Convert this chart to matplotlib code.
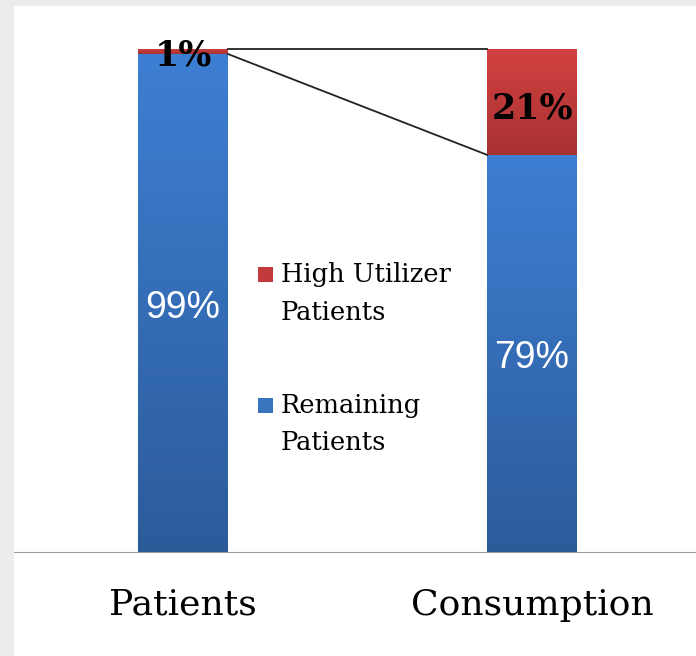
import numpy as np
import matplotlib.pyplot as plt
from matplotlib.colors import to_rgb
from matplotlib.patches import Rectangle

categories = ['Patients', 'Consumption']
remaining = [99, 79]
high_util = [1, 21]
remaining_labels = ['99%', '79%']
high_labels = ['1%', '21%']
legend_labels = ['High Utilizer\nPatients', 'Remaining\nPatients']
legend_colors = ['#c23a3b', '#3a73c0']

W, H = 696, 656
fig = plt.figure(figsize=(W / 100, H / 100), dpi=100, facecolor='#ececec')

# white panel behind everything
fig.patches.append(Rectangle((14 / W, 0), 1 - 14 / W, 1 - 6 / H,
                             transform=fig.transFigure, facecolor='white',
                             edgecolor='none', zorder=-10))

bw = 90 / 349
ax = fig.add_axes([14 / W, 103 / H, 1 - 14 / W, (553 - 6) / H])
ax.set_facecolor('none')
for s in ax.spines.values():
    s.set_visible(False)
ax.set_xticks([])
ax.set_yticks([])

x = np.arange(len(categories))


def gradient_bar(xc, bottom, height, top_col, bot_col):
    rect = Rectangle((xc - bw / 2, bottom), bw, height, facecolor='none',
                     edgecolor='none')
    ax.add_patch(rect)
    c1 = np.array(to_rgb(top_col))
    c2 = np.array(to_rgb(bot_col))
    t = np.linspace(0, 1, 200)[:, None]
    img = (c1 * (1 - t) + c2 * t)[:, None, :]
    im = ax.imshow(img, extent=(xc - bw / 2, xc + bw / 2, bottom, bottom + height),
                   aspect='auto', zorder=2, interpolation='bilinear')
    im.set_clip_path(rect)


for i in x:
    gradient_bar(i, 0, remaining[i], '#3d7fd3', '#2c5b9a')
    gradient_bar(i, remaining[i], high_util[i], '#d24141', '#a93232')

# connector lines
ax.plot([x[0] + bw / 2, x[1] - bw / 2], [100, 100], color='#222222', lw=1.3, zorder=3)
ax.plot([x[0] + bw / 2, x[1] - bw / 2], [remaining[0], remaining[1]],
        color='#222222', lw=1.3, zorder=3)

ax.set_xlim(-(183 - 14) / 349, (696 - 183) / 349)
ax.set_ylim(0, (553 - 6) / 504 * 100)

# baseline
ax.axhline(0, color='#9a9a9a', lw=1.5, zorder=4)

# value labels
ax.text(x[0], 46.6, remaining_labels[0], color='white', fontsize=27,
        family='Liberation Sans', ha='center', va='baseline', zorder=5)
ax.text(x[1], 36.7, remaining_labels[1], color='white', fontsize=27,
        family='Liberation Sans', ha='center', va='baseline', zorder=5)
ax.text(x[0], 96.8, high_labels[0], color='black', fontsize=25,
        family='DejaVu Serif', weight='bold', ha='center', va='baseline', zorder=5)
ax.text(x[1], 86.3, high_labels[1], color='black', fontsize=25,
        family='DejaVu Serif', weight='bold', ha='center', va='baseline', zorder=5)

# category labels
for i, c in enumerate(categories):
    ax.text(x[i], -10.3, c, fontsize=26, family='DejaVu Serif',
            ha='center', va='center', clip_on=False)

# legend (drawn by hand so the swatch sits on the first line)
leg_base = [282, 413]
for lab, col, yb in zip(legend_labels, legend_colors, leg_base):
    fig.patches.append(Rectangle((258 / W, 1 - yb / H), 15 / W, 15 / H,
                                 transform=fig.transFigure, facecolor=col,
                                 edgecolor='none', zorder=5))
    for k, line in enumerate(lab.split('\n')):
        fig.text(281 / W, 1 - (yb + 37.5 * k) / H, line, fontsize=18.5,
                 family='DejaVu Serif', ha='left', va='baseline')

fig.savefig('out.png', dpi=100, facecolor=fig.get_facecolor())
